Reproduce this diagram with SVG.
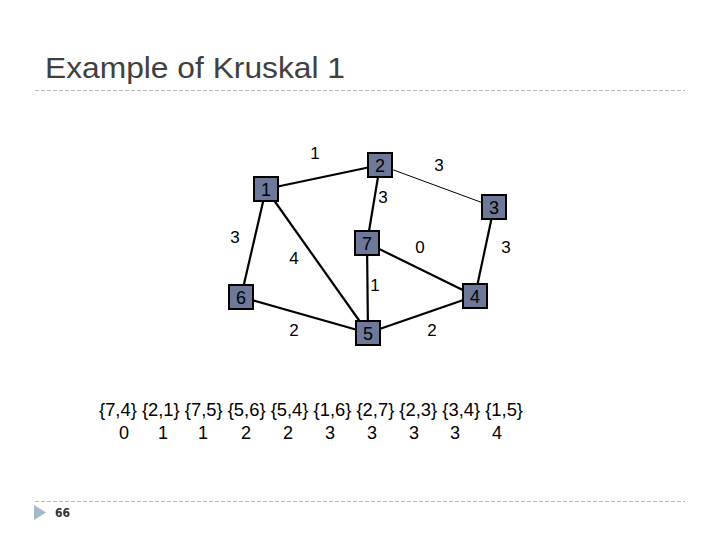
<svg xmlns="http://www.w3.org/2000/svg" width="720" height="540" viewBox="0 0 720 540">
<style>
.t{font-family:"Liberation Sans",Arial,sans-serif;fill:#000}
.nb{fill:#6e7899;stroke:#000;stroke-width:2}
.nl{font-family:"Liberation Sans",Arial,sans-serif;font-size:18px;text-anchor:middle;fill:#000}
.el{font-family:"Liberation Sans",Arial,sans-serif;font-size:17px;text-anchor:middle;fill:#000}
.e{stroke:#000;stroke-width:2.2;fill:none}
.dash{stroke:#b8b8b8;stroke-width:1;stroke-dasharray:4,2}
</style>
<rect width="720" height="540" fill="#fff"/>
<text x="45" y="78" font-family="'Liberation Sans',Arial,sans-serif" font-size="29" fill="#404040" textLength="300" lengthAdjust="spacingAndGlyphs">Example of Kruskal 1</text>
<line class="dash" x1="35" y1="90.5" x2="685" y2="90.5"/>
<line class="dash" x1="35" y1="501.5" x2="685" y2="501.5"/>
<polygon points="34,505 46,512.5 34,520" fill="#a8b8cc"/>
<text x="55" y="517" font-family="'DejaVu Sans Condensed','DejaVu Sans',sans-serif" font-size="12" font-weight="bold" fill="#333">66</text>
<g id="connectors">
<line class="e" x1="266" y1="189" x2="380" y2="165"/>
<line x1="380" y1="165" x2="494" y2="207" stroke="#000" stroke-width="1"/>
<line class="e" x1="380" y1="165" x2="367" y2="243"/>
<line class="e" x1="266" y1="189" x2="241" y2="297"/>
<line class="e" x1="266" y1="189" x2="368" y2="333"/>
<line class="e" x1="367" y1="243" x2="368" y2="333"/>
<line class="e" x1="367" y1="243" x2="475" y2="296"/>
<line class="e" x1="494" y1="207" x2="475" y2="296"/>
<line class="e" x1="241" y1="297" x2="368" y2="333"/>
<line class="e" x1="368" y1="333" x2="475" y2="296"/>
<text class="el" x="315" y="159">1</text>
<text class="el" x="439" y="171">3</text>
<text class="el" x="383" y="203">3</text>
<text class="el" x="235" y="243">3</text>
<text class="el" x="294" y="264">4</text>
<text class="el" x="420" y="253">0</text>
<text class="el" x="506" y="253">3</text>
<text class="el" x="375" y="291">1</text>
<text class="el" x="294" y="336">2</text>
<text class="el" x="432" y="336">2</text>
</g>
<g id="n1"><rect class="nb" x="254" y="177" width="24" height="24"/><text class="nl" x="266" y="196">1</text></g>
<g id="n2"><rect class="nb" x="368" y="153" width="24" height="24"/><text class="nl" x="380" y="172">2</text></g>
<g id="n3"><rect class="nb" x="482" y="195" width="24" height="24"/><text class="nl" x="494" y="214">3</text></g>
<g id="n7"><rect class="nb" x="355" y="231" width="24" height="24"/><text class="nl" x="367" y="250">7</text></g>
<g id="n6"><rect class="nb" x="229" y="285" width="24" height="24"/><text class="nl" x="241" y="304">6</text></g>
<g id="n4"><rect class="nb" x="463" y="284" width="24" height="24"/><text class="nl" x="475" y="303">4</text></g>
<g id="n5"><rect class="nb" x="356" y="321" width="24" height="24"/><text class="nl" x="368" y="340">5</text></g>
<text class="t" x="99" y="416" font-size="18" textLength="424" lengthAdjust="spacingAndGlyphs">{7,4} {2,1} {7,5} {5,6} {5,4} {1,6} {2,7} {2,3} {3,4} {1,5}</text>
<g class="t" font-size="18" text-anchor="middle">
<text x="124" y="439">0</text><text x="163" y="439">1</text><text x="203" y="439">1</text><text x="246" y="439">2</text><text x="288" y="439">2</text><text x="330" y="439">3</text><text x="372" y="439">3</text><text x="414" y="439">3</text><text x="455" y="439">3</text><text x="497" y="439">4</text>
</g>
</svg>
